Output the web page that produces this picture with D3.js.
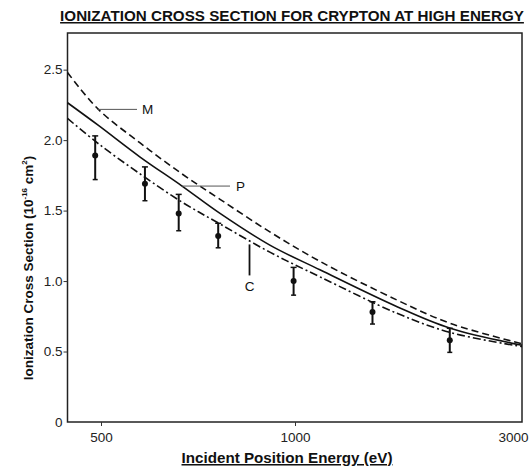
<!DOCTYPE html>
<html><head><meta charset="utf-8">
<script src="https://cdn.jsdelivr.net/npm/d3@7"></script>
<style>body{margin:0;background:#fff}svg{display:block;font-family:"Liberation Sans",Arial,sans-serif}</style>
</head><body><svg id="c" width="531" height="470"></svg>
<script>
// ---- data ----
const curveEnergy = [445, 495, 575, 668, 765, 914, 1128, 1639, 2120, 3000];
const curveM = [2.48, 2.22, 1.98, 1.76, 1.58, 1.349, 1.14, 0.865, 0.70, 0.555];
const curveP = [2.265, 2.106, 1.88, 1.674, 1.48, 1.255, 1.08, 0.818, 0.665, 0.545];
const curveC = [2.154, 1.976, 1.76, 1.56, 1.405, 1.205, 1.03, 0.771, 0.635, 0.535];
const pointEnergy = [490, 585, 660, 760, 995, 1455, 2115];
const pointValue = [1.89, 1.69, 1.48, 1.32, 1.00, 0.78, 0.58];
const errLow = [1.72, 1.57, 1.357, 1.236, 0.90, 0.695, 0.494];
const errHigh = [2.03, 1.81, 1.615, 1.41, 1.097, 0.853, 0.665];
const xTickValues = [500, 1000, 3000];
const yTickValues = [0, 0.5, 1.0, 1.5, 2.0, 2.5];
const yTickLabels = ["0", "0.5", "1.0", "1.5", "2.0", "2.5"];

const svg = d3.select("#c");
const L = 67.5, R = 522, T = 33, B = 422;
const x = d3.scaleLog().domain([445, 500, 1000, 3000]).range([L, 101, 295, R]);
const y = d3.scaleLinear().domain([0, 2.76]).range([B, T]);

// title
svg.append("text").attr("x", 292).attr("y", 21).attr("text-anchor", "middle")
  .attr("font-size", 15.2).attr("font-weight", "bold").attr("text-decoration", "underline")
  .attr("fill", "#111").text("IONIZATION CROSS SECTION FOR CRYPTON AT HIGH ENERGY");

// frame
svg.append("rect").attr("x", L).attr("y", T).attr("width", R - L).attr("height", B - T)
  .attr("fill", "none").attr("stroke", "#222").attr("stroke-width", 1.5);

// y axis
const yAxis = d3.axisLeft(y).tickValues(yTickValues).tickSize(4).tickPadding(1)
  .tickFormat((d, i) => yTickLabels[i]);
const gy = svg.append("g").attr("transform", `translate(${L},0)`).call(yAxis);
gy.select(".domain").remove();
gy.selectAll("text").attr("font-size", 13.5).attr("fill", "#222").attr("font-family", "Liberation Sans, Arial, sans-serif");
gy.selectAll("line").attr("stroke", "#333");
gy.select(".tick:first-of-type line").remove();

// x axis
const xAxis = d3.axisBottom(x).tickValues(xTickValues).tickSize(4).tickPadding(6)
  .tickFormat(d3.format("d"));
const gx = svg.append("g").attr("transform", `translate(0,${B})`).call(xAxis);
gx.select(".domain").remove();
gx.selectAll("text").attr("font-size", 13.5).attr("fill", "#222").attr("font-family", "Liberation Sans, Arial, sans-serif");
gx.selectAll("line").attr("stroke", "#333");
gx.selectAll(".tick").filter(d => d === 3000).select("text").attr("text-anchor", "end").attr("dx", 6);
gx.selectAll(".tick").filter(d => d === 3000).select("line").remove();

// axis labels
svg.append("text").attr("x", 287).attr("y", 463).attr("text-anchor", "middle")
  .attr("font-size", 15.2).attr("font-weight", "bold").attr("text-decoration", "underline")
  .attr("fill", "#111").text("Incident Position Energy (eV)");
const yl = svg.append("text").attr("transform", "translate(33,268) rotate(-90)")
  .attr("text-anchor", "middle").attr("font-size", 13.5).attr("font-weight", "bold").attr("fill", "#111");
yl.append("tspan").text("Ionization Cross Section (10");
yl.append("tspan").attr("dy", -6).attr("font-size", 8).text("-16");
yl.append("tspan").attr("dy", 6).text(" cm");
yl.append("tspan").attr("dy", -6).attr("font-size", 8).text("2");
yl.append("tspan").attr("dy", 6).text(")");

// curves
const line = d3.line().x(d => x(d[0])).y(d => y(d[1])).curve(d3.curveCatmullRom.alpha(0.5));
const plot = svg.append("g");
const curves = [
  {v: curveM, dash: "7,4"},
  {v: curveP, dash: null},
  {v: curveC, dash: "8,3,2,3"}
];
curves.forEach(c => {
  plot.append("path").datum(curveEnergy.map((e, i) => [e, c.v[i]]))
    .attr("d", line).attr("fill", "none").attr("stroke", "#111").attr("stroke-width", 1.6)
    .attr("stroke-dasharray", c.dash);
});

// error bars + points
const pts = pointEnergy.map((e, i) => ({e, v: pointValue[i], lo: errLow[i], hi: errHigh[i]}));
const eg = plot.selectAll("g.pt").data(pts).join("g");
eg.append("line").attr("x1", d => x(d.e)).attr("x2", d => x(d.e)).attr("y1", d => y(d.lo)).attr("y2", d => y(d.hi))
  .attr("stroke", "#111").attr("stroke-width", 2);
eg.append("line").attr("x1", d => x(d.e) - 3).attr("x2", d => x(d.e) + 3).attr("y1", d => y(d.hi)).attr("y2", d => y(d.hi))
  .attr("stroke", "#111").attr("stroke-width", 1.5);
eg.append("line").attr("x1", d => x(d.e) - 2.5).attr("x2", d => x(d.e) + 2.5).attr("y1", d => y(d.lo)).attr("y2", d => y(d.lo))
  .attr("stroke", "#111").attr("stroke-width", 1.5);
eg.append("circle").attr("cx", d => x(d.e)).attr("cy", d => y(d.v)).attr("r", 3).attr("fill", "#111");

// curve labels with leaders
const ann = svg.append("g").attr("font-size", 13.5).attr("fill", "#111");
ann.append("line").attr("x1", x(495)).attr("x2", 137).attr("y1", y(2.218)).attr("y2", y(2.218)).attr("stroke", "#555").attr("stroke-width", 1);
ann.append("text").attr("x", 142).attr("y", y(2.218) + 5).text("M");
ann.append("line").attr("x1", x(668)).attr("x2", 230).attr("y1", y(1.674)).attr("y2", y(1.674)).attr("stroke", "#555").attr("stroke-width", 1);
ann.append("text").attr("x", 236).attr("y", y(1.674) + 5).text("P");
ann.append("line").attr("x1", x(850)).attr("x2", x(850)).attr("y1", y(1.26)).attr("y2", y(1.04)).attr("stroke", "#111").attr("stroke-width", 1.8);
ann.append("text").attr("x", x(850)).attr("y", y(0.93)).attr("text-anchor", "middle").text("C");
</script></body></html>
